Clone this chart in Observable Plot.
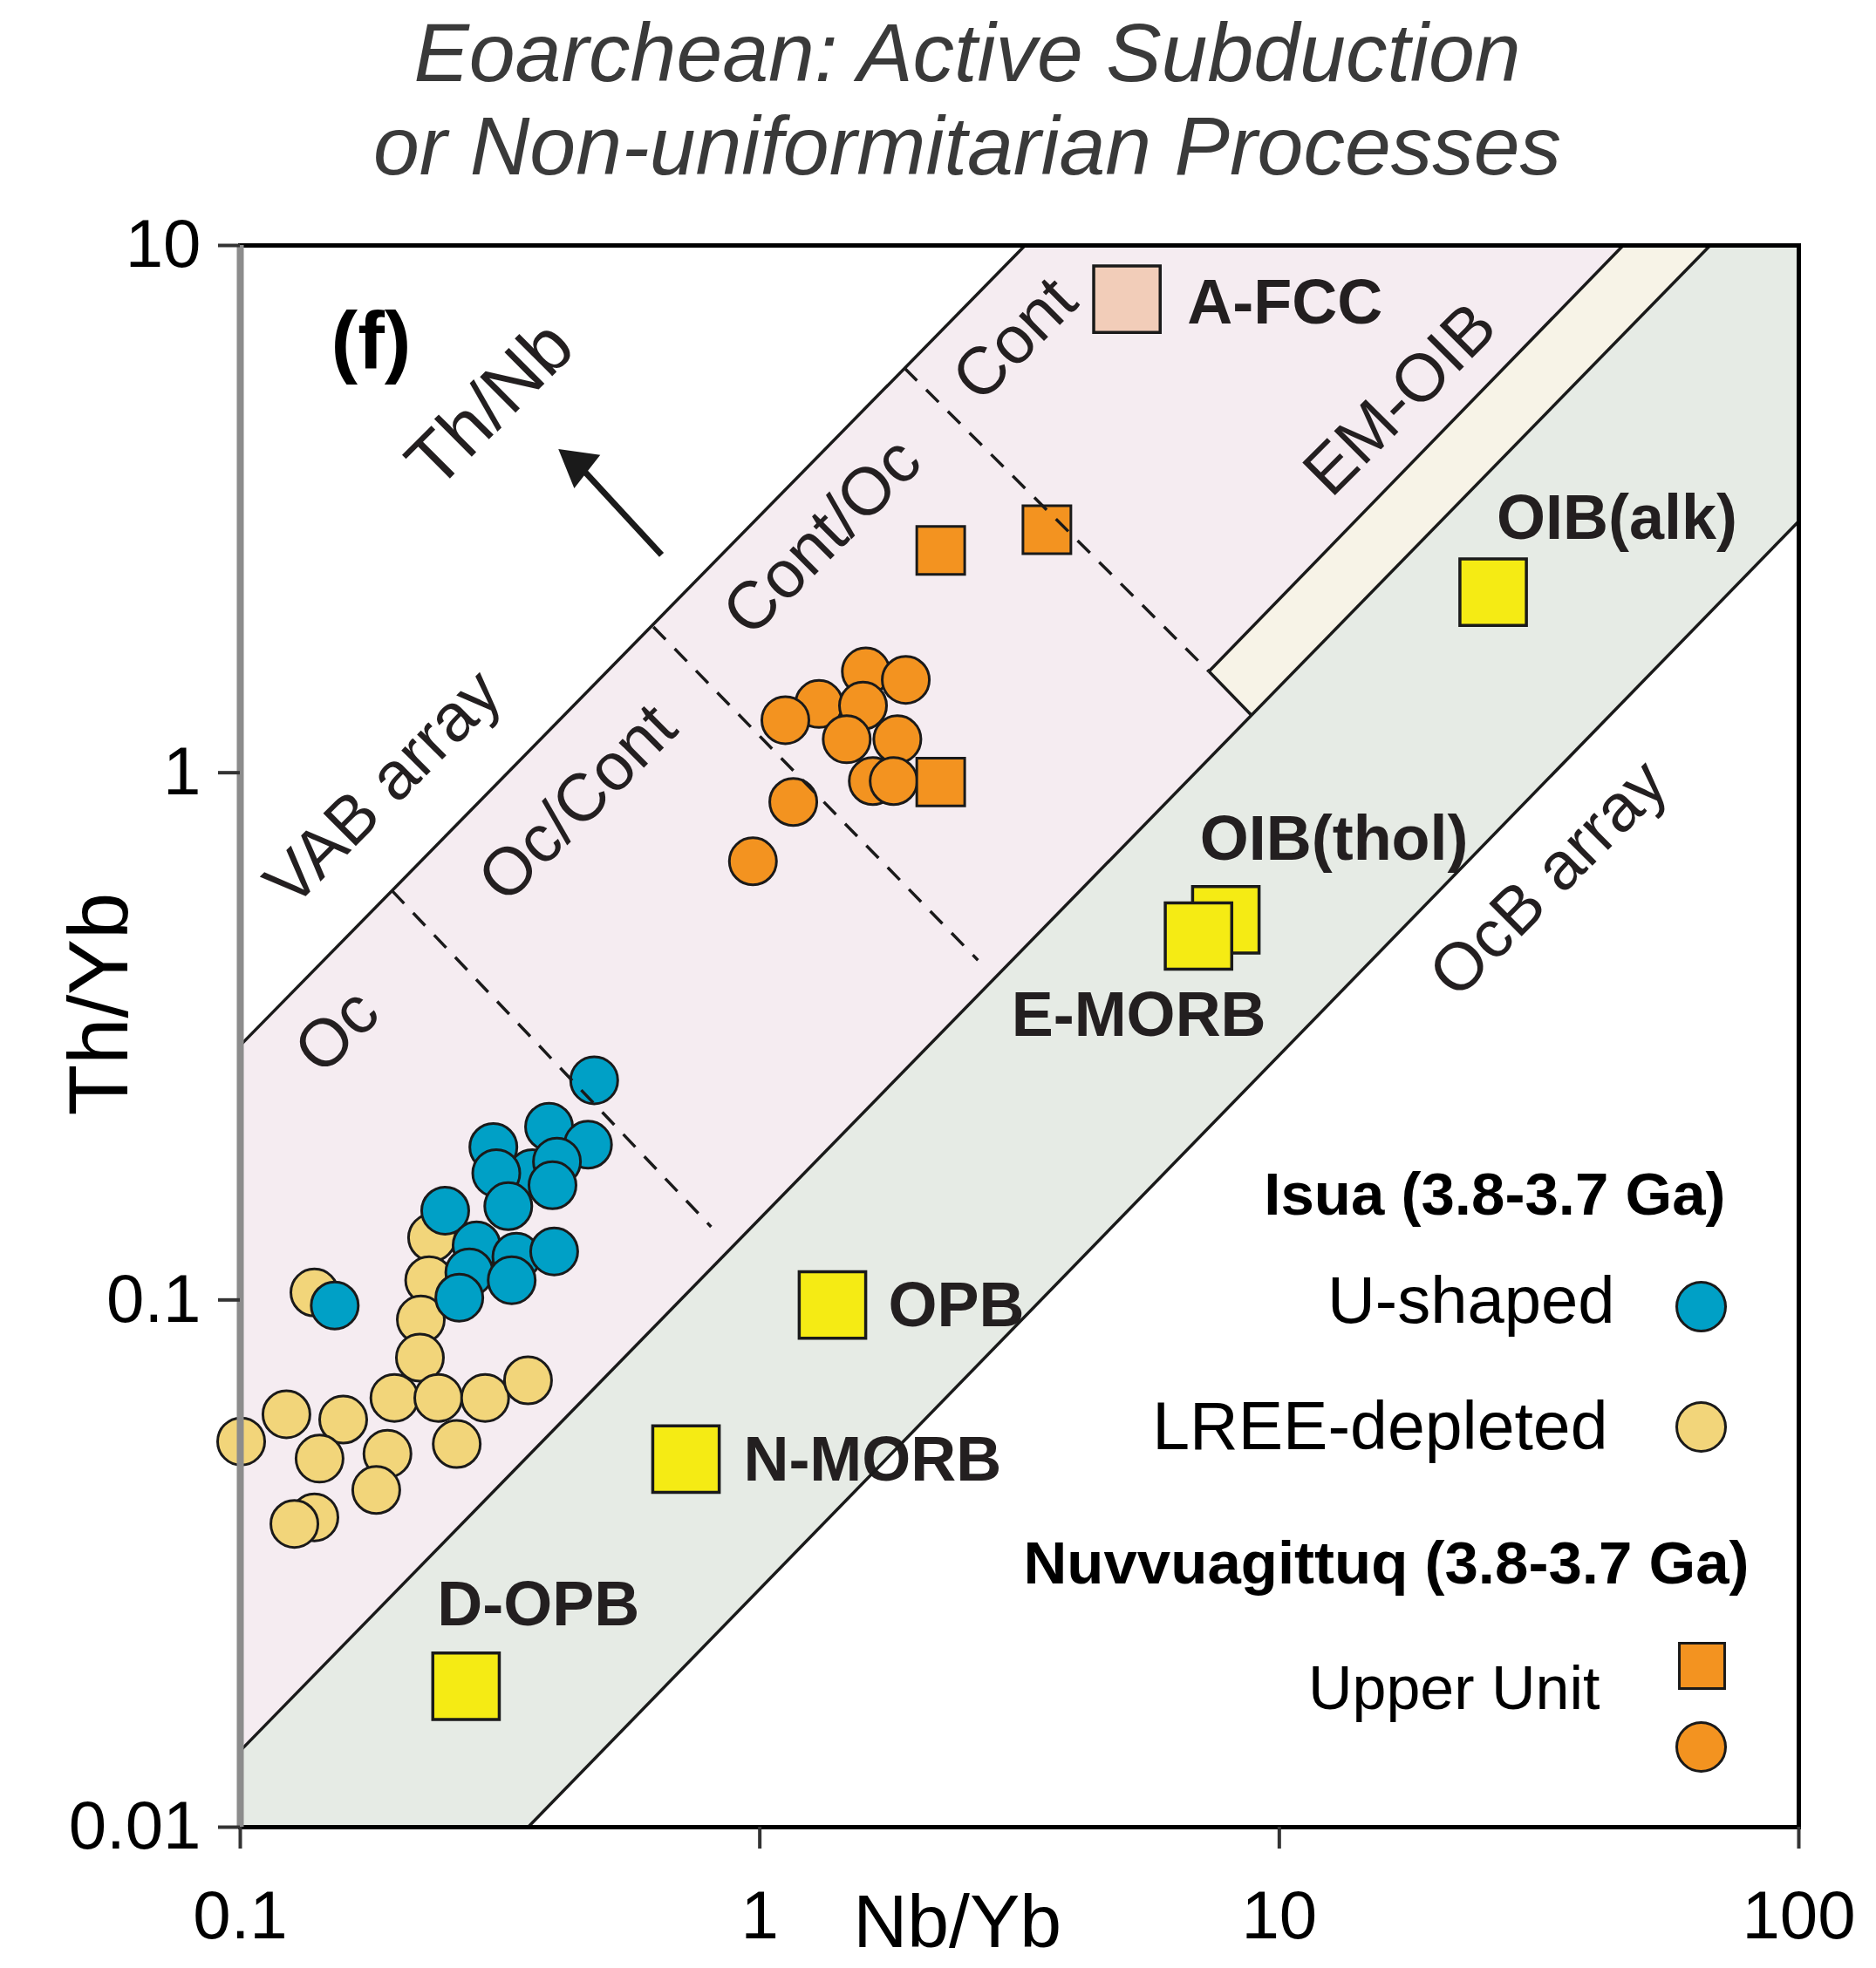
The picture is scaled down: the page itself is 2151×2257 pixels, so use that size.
<!DOCTYPE html>
<html><head><meta charset="utf-8">
<script src="https://cdn.jsdelivr.net/npm/d3@7"></script>
<script src="https://cdn.jsdelivr.net/npm/@observablehq/plot@0.6"></script>
<style>
body{margin:0;background:#fff;width:2151px;height:2257px;overflow:hidden;font-family:"Liberation Sans",Arial,sans-serif}
#title{box-sizing:border-box;height:230px;padding-top:7px;padding-left:67px;text-align:center;font-style:italic;font-size:95px;line-height:107px;color:#3a3a3a;}
#chart svg{display:block}
</style></head><body>
<div id="title">Eoarchean: Active Subduction<br>or Non-uniformitarian Processes</div>
<div id="chart"></div>
<script>
// ---- Isua U-shaped (blue) ----
const uShapedNbYb = [0.365,0.480,0.393,0.307,0.467,0.311,0.407,0.399,0.328,0.248,0.285,0.340,0.402,0.276,0.333,0.264,0.152];
const uShapedThYb = [0.174,0.261,0.213,0.195,0.197,0.174,0.183,0.165,0.1506,0.1477,0.1269,0.1208,0.1236,0.1128,0.109,0.101,0.0976];
// ---- Isua LREE-depleted (yellow) ----
const lreeNbYb = [0.234,0.231,0.2226,0.2217,0.1389,0.198,0.2405,0.296,0.358,0.1227,0.1004,0.1578,0.1421,0.192,0.261,0.1827,0.1389,0.1271];
const lreeThYb = [0.1313,0.109,0.0918,0.0777,0.1033,0.0652,0.0652,0.0652,0.0704,0.0607,0.0539,0.0593,0.05,0.0511,0.0533,0.0436,0.0387,0.0376];
// ---- Nuvvuagittuq Upper Unit ----
const upperSqNbYb = [2.23,3.57,2.23];
const upperSqThYb = [2.64,2.89,0.96];
const upperCircNbYb = [1.60,1.91,1.30,1.12,1.58,1.47,1.84,1.65,1.81,1.16,0.97];
const upperCircThYb = [1.556,1.50,1.35,1.258,1.34,1.157,1.157,0.964,0.964,0.88,0.679];
// ---- Reference compositions ----
const refNames = ["A-FCC","OIB(alk)","OIB(thol)","E-MORB","OPB","N-MORB","D-OPB"];
const refNbYb = [5.09,25.8,7.89,6.99,1.38,0.721,0.272];
const refThYb = [7.91,2.20,0.526,0.490,0.0978,0.0499,0.0185];
const refColors = ["#f2cdb9","#f5eb14","#f5eb14","#f5eb14","#f5eb14","#f5eb14","#f5eb14"];
const refLabelNbYb = [6.65,26.2,7.03,3.05,1.767,0.930,0.2394];
const refLabelThYb = [7.75,3.03,0.747,0.3465,0.0972,0.0496,0.0264];
// ---- Fields (polygon vertices) ----
const pinkFieldNbYb = [0.1,3.24,45.9,7.32,8.83,0.1];
const pinkFieldThYb = [0.304,10,10,1.556,1.287,0.01396];
const creamFieldNbYb = [7.32,45.9,67.5,8.83];
const creamFieldThYb = [1.556,10,10,1.287];
const greyFieldNbYb = [0.1,8.83,67.5,100,100,0.358,0.1];
const greyFieldThYb = [0.01396,1.287,10,10,3.0,0.01,0.01];
// ---- Boundary lines ----
const solidX1 = [0.1,0.1,7.32,7.32,0.358];
const solidY1 = [0.304,0.01396,1.556,1.556,0.01];
const solidX2 = [3.24,67.5,45.9,8.83,100];
const solidY2 = [10,10,10,1.287,3.0];
const dashX1 = [0.196,0.624,1.90];
const dashY1 = [0.597,1.89,5.85];
const dashX2 = [0.806,2.63,7.32];
const dashY2 = [0.1376,0.441,1.556];
// ---- Region labels ----
const regionNames = ["VAB array","Oc","Oc/Cont","Cont/Oc","Cont","EM-OIB","OcB array"];
const regionNbYb = [0.1885,0.1536,0.4464,1.32,3.10,17.1,33.0];
const regionThYb = [0.935,0.323,0.875,2.80,6.63,5.10,0.629];
const arrowLabel = ["Th/Nb"]; const arrowLabelNbYb = [0.303]; const arrowLabelThYb = [4.99];
const arrowTail = [0.647,2.59]; const arrowHead = [0.446,3.85];
// ---- Axes ----
const xTicks = [0.1,1,10,100];
const yTicks = [0.01,0.1,1,10];
const legendLabels = ["Isua (3.8-3.7 Ga)","U-shaped","LREE-depleted","Nuvvuagittuq (3.8-3.7 Ga)","Upper Unit"];

const pts = (xs, ys) => xs.map((x,i) => ({x, y: ys[i]}));
const segs = (x1,y1,x2,y2) => x1.map((v,i)=>({x1:v,y1:y1[i],x2:x2[i],y2:y2[i]}));
const refs = refNames.map((n,i)=>({n, x: refNbYb[i], y: refThYb[i], c: refColors[i], lx: refLabelNbYb[i], ly: refLabelThYb[i]}));
const regions = regionNames.map((n,i)=>({n, x: regionNbYb[i], y: regionThYb[i]}));
const ink = "#1a1a1a";
const font = '"Liberation Sans", Arial, sans-serif';
const legText = (t, dx, dy, size, bold) => Plot.text([t], {frameAnchor:"bottom-right", dx, dy, text:d=>d, textAnchor:"end", lineAnchor:"middle", fontSize:size, fontWeight: bold ? "bold" : "normal", fill:"#000"});

const plot = Plot.plot({
  width: 2151, height: 2027,
  marginTop: 51, marginBottom: 162, marginLeft: 275, marginRight: 89,
  style: {fontFamily: font, fontSize: "78px", color: "#000", background: "transparent"},
  x: {type: "log", domain: [0.1, 100]},
  y: {type: "log", domain: [0.01, 10]},
  marks: [
    Plot.line(pts(pinkFieldNbYb, pinkFieldThYb), {x:"x", y:"y", fill:"#f5ecf1", stroke:"none"}),
    Plot.line(pts(creamFieldNbYb, creamFieldThYb), {x:"x", y:"y", fill:"#f7f3e7", stroke:"none"}),
    Plot.line(pts(greyFieldNbYb, greyFieldThYb), {x:"x", y:"y", fill:"#e6ebe5", stroke:"none"}),
    Plot.text(refs, {x:"lx", y:"ly", text:"n", textAnchor:"start", fontWeight:"bold", fontSize:72, fill:"#231f20"}),
    Plot.link(segs(solidX1,solidY1,solidX2,solidY2), {x1:"x1",y1:"y1",x2:"x2",y2:"y2", stroke: ink, strokeWidth:3.5}),
    Plot.dot(pts(lreeNbYb, lreeThYb), {x:"x", y:"y", r:27, fill:"#f2d57a", stroke: ink, strokeWidth:3}),
    Plot.dot(pts(uShapedNbYb, uShapedThYb), {x:"x", y:"y", r:27, fill:"#00a0c6", stroke: ink, strokeWidth:3}),
    Plot.dot(pts(upperCircNbYb, upperCircThYb), {x:"x", y:"y", r:27, fill:"#f39320", stroke: ink, strokeWidth:3}),
    Plot.dot(pts(upperSqNbYb, upperSqThYb), {x:"x", y:"y", r:31, symbol:"square", fill:"#f39320", stroke: ink, strokeWidth:3}),
    Plot.dot(refs, {x:"x", y:"y", r:43, symbol:"square", fill:"c", stroke: ink, strokeWidth:3.5}),
    Plot.link(segs(dashX1,dashY1,dashX2,dashY2), {x1:"x1",y1:"y1",x2:"x2",y2:"y2", stroke: ink, strokeWidth:3.5, strokeDasharray:"20,15"}),
    Plot.text(regions, {x:"x", y:"y", text:"n", rotate:-45, fontSize:77, fill:"#231f20"}),
    Plot.text(arrowLabel, {x: arrowLabelNbYb, y: arrowLabelThYb, text: d=>d, rotate:-45, fontSize:84, fill:"#231f20"}),
    Plot.link([{x1:arrowTail[0], y1:arrowTail[1], x2:arrowHead[0], y2:arrowHead[1]}], {x1:"x1",y1:"y1",x2:"x2",y2:"y2", stroke:ink, strokeWidth:7}),
    Plot.dot([{x:arrowHead[0], y:arrowHead[1]}], {x:"x", y:"y", symbol:"triangle", r:18, rotate:-52, fill:ink, stroke:"none"}),
    Plot.text(["(f)"], {frameAnchor:"top-left", dx:150, dy:111, text:d=>d, textAnchor:"middle", lineAnchor:"middle", fontWeight:"bold", fontSize:92, fill:"#000"}),
    // legend
    legText(legendLabels[0], -84, -725, 69, true),
    legText(legendLabels[1], -211, -603, 76, false),
    legText(legendLabels[2], -219, -458, 77, false),
    legText(legendLabels[3], -57, -302, 69, true),
    legText(legendLabels[4], -228, -158, 70, false),
    Plot.dot([0], {frameAnchor:"bottom-right", dx:-112, dy:-597, r:28, fill:"#00a0c6", stroke:ink, strokeWidth:3}),
    Plot.dot([0], {frameAnchor:"bottom-right", dx:-112, dy:-459, r:28, fill:"#f2d57a", stroke:ink, strokeWidth:3}),
    Plot.dot([0], {frameAnchor:"bottom-right", dx:-111, dy:-185, r:29.3, symbol:"square", fill:"#f39320", stroke:ink, strokeWidth:3}),
    Plot.dot([0], {frameAnchor:"bottom-right", dx:-112, dy:-92, r:28, fill:"#f39320", stroke:ink, strokeWidth:3}),
    // frame & axes
    Plot.frame({stroke:"#000", strokeWidth:5}),
    Plot.ruleX([0.1], {stroke:"#8c8c8c", strokeWidth:8}),
    Plot.axisX({ticks:xTicks, tickFormat:d=>String(d), tickSize:25, tickPadding:47, fontSize:78, label:null, stroke:"#333", strokeWidth:4}),
    Plot.axisY({ticks:yTicks, tickFormat:d=>String(d), tickSize:25, tickPadding:20, fontSize:78, label:null, stroke:"#333", strokeWidth:4}),
    Plot.text(["Th/Yb"], {y:[0.364], frameAnchor:"left", dx:-160, rotate:-90, text:d=>d, textAnchor:"middle", lineAnchor:"middle", fontSize:96, fill:"#000"}),
    Plot.text(["Nb/Yb"], {x:[2.4], frameAnchor:"bottom", dy:110, text:d=>d, textAnchor:"middle", lineAnchor:"middle", fontSize:86, fill:"#000"})
  ]
});
document.getElementById("chart").appendChild(plot);
</script></body></html>
